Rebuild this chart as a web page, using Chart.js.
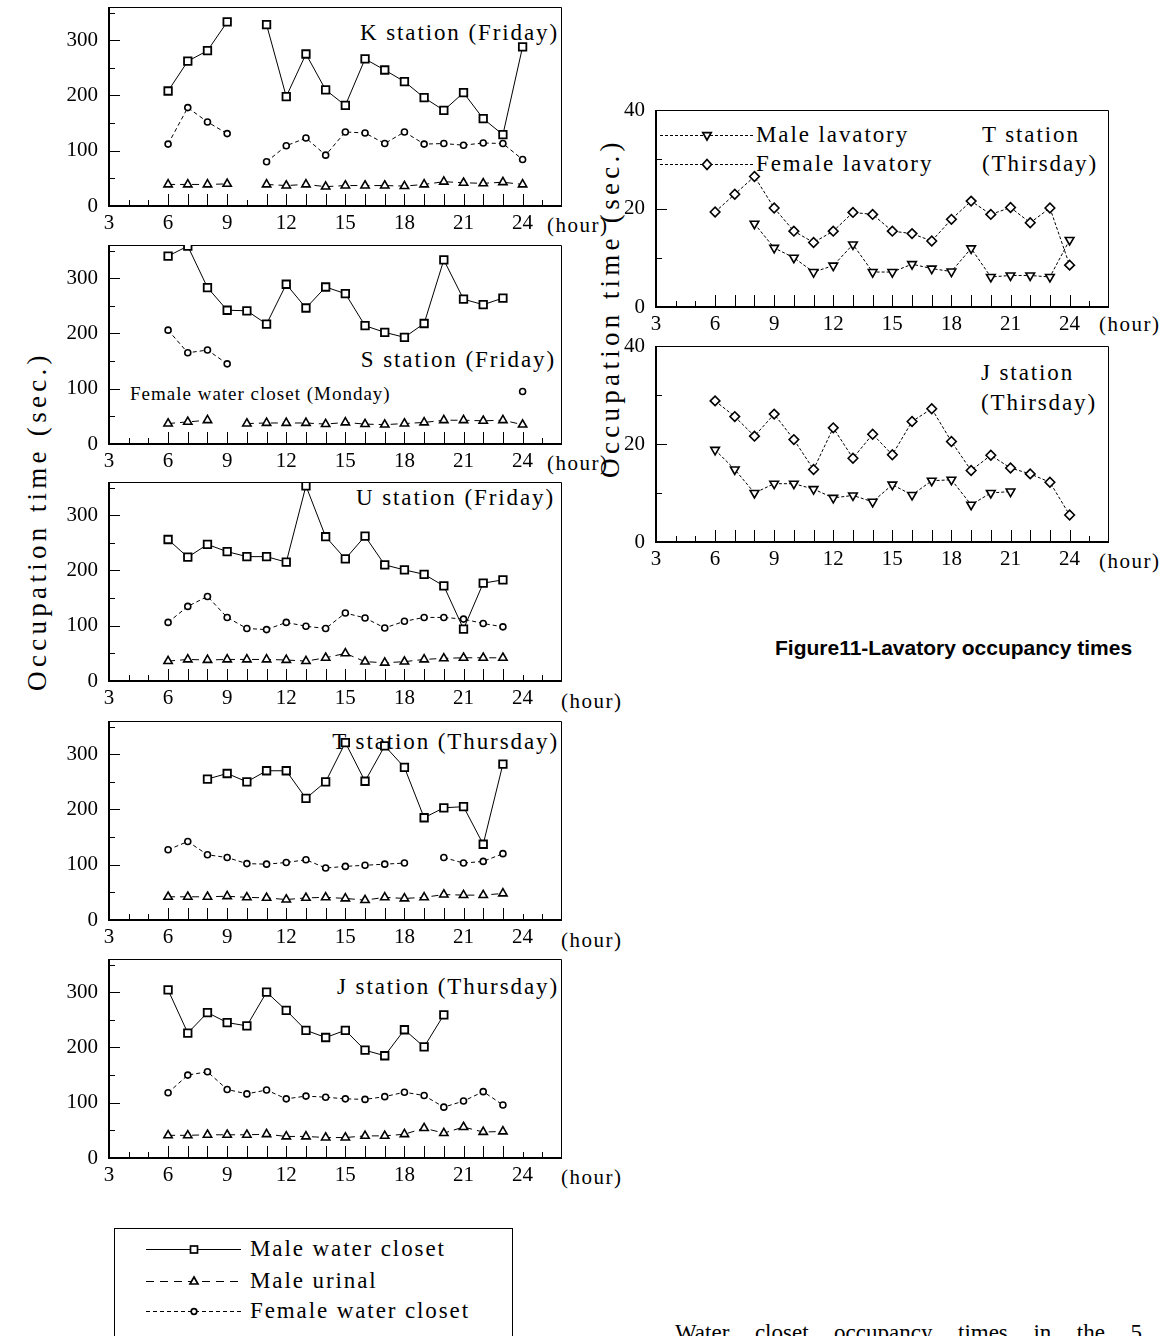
<!DOCTYPE html>
<html>
<head>
<meta charset="utf-8">
<script src="https://cdn.jsdelivr.net/npm/chart.js@4.4.0/dist/chart.umd.min.js"></script>
<style>
  body { margin: 0; background: #fff; }
  #page { position: relative; width: 1162px; height: 1336px; overflow: hidden; background: #fff;
          font-family: "Liberation Serif", "Times New Roman", serif; color: #000; }
  canvas { position: absolute; }
  .lab { position: absolute; white-space: nowrap; font-size: 23px; letter-spacing: 1.9px; line-height: 26px; }
  .hr { position: absolute; white-space: nowrap; font-size: 21px; letter-spacing: 1.5px; line-height: 24px; }
  .ytitle { position: absolute; white-space: nowrap; font-size: 27px; letter-spacing: 4.3px; line-height: 30px;
            transform: translate(-50%, -50%) rotate(-90deg); }
  .fig { position: absolute; white-space: nowrap; font-family: "Liberation Sans", Arial, sans-serif;
         font-weight: bold; font-size: 21px; line-height: 24px; }
  .para { position: absolute; font-size: 23px; line-height: 28px; text-align: justify; text-align-last: justify; }
  svg { position: absolute; left: 0; top: 0; }
</style>
</head>
<body>
<div id="page">
  <div class="ytitle" style="left:37px; top:521px;">Occupation time (sec.)</div>
  <div class="ytitle" style="left:610px; top:308px;">Occupation time (sec.)</div>

  <div class="lab" style="right:603px; top:20px;">K station (Friday)</div>
  <div class="lab" style="right:606px; top:347px;">S station (Friday)</div>
  <div class="lab" style="left:130px; top:383px; font-size:19px; letter-spacing:1px; line-height:22px;">Female water closet (Monday)</div>
  <div class="lab" style="right:607px; top:485px;">U station (Friday)</div>
  <div class="lab" style="right:603px; top:729px;">T station (Thursday)</div>
  <div class="lab" style="right:603px; top:974px;">J station (Thursday)</div>

  <div class="hr" style="left:547px; top:213px;">(hour)</div>
  <div class="hr" style="left:547px; top:451px;">(hour)</div>
  <div class="hr" style="left:561px; top:689px;">(hour)</div>
  <div class="hr" style="left:561px; top:928px;">(hour)</div>
  <div class="hr" style="left:561px; top:1165px;">(hour)</div>
  <div class="hr" style="left:1099px; top:312px;">(hour)</div>
  <div class="hr" style="left:1099px; top:549px;">(hour)</div>

  <div class="lab" style="left:756px; top:122px;">Male lavatory</div>
  <div class="lab" style="left:756px; top:151px;">Female lavatory</div>
  <div class="lab" style="left:982px; top:122px;">T station</div>
  <div class="lab" style="left:982px; top:151px;">(Thirsday)</div>
  <div class="lab" style="left:981px; top:360px;">J station</div>
  <div class="lab" style="left:981px; top:390px;">(Thirsday)</div>

  <div class="fig" style="left:775px; top:636px;">Figure11-Lavatory occupancy times</div>

  <div style="position:absolute; left:114px; top:1228px; width:397px; height:130px; border:1px solid #000; border-left-width:1.5px;"></div>
  <div class="lab" style="left:250px; top:1236px;">Male water closet</div>
  <div class="lab" style="left:250px; top:1268px;">Male urinal</div>
  <div class="lab" style="left:250px; top:1298px;">Female water closet</div>

  <div class="para" style="left:675px; top:1319px; width:467px;">Water closet occupancy times in the 5</div>

  <svg width="1162" height="1336">
    <g stroke="#000" fill="none" stroke-width="1">
      <line x1="146" y1="1249.5" x2="241" y2="1249.5"/>
      <line x1="146" y1="1281.5" x2="241" y2="1281.5" stroke-dasharray="8 6"/>
      <line x1="146" y1="1311.5" x2="241" y2="1311.5" stroke-dasharray="4 3"/>
      <line x1="660" y1="135.5" x2="754" y2="135.5" stroke-dasharray="3 2"/>
      <line x1="660" y1="164.5" x2="754" y2="164.5" stroke-dasharray="3 2"/>
    </g>
    <g stroke="#000" fill="#fff" stroke-width="1.7">
      <rect x="190.5" y="1246" width="7" height="7"/>
      <polygon points="194,1277 198,1284 190,1284"/>
      <circle cx="194" cy="1311.5" r="2.8"/>
      <polygon points="707,140 702.8,132.7 711.2,132.7"/>
      <polygon points="707,159.5 711.5,164.5 707,169.5 702.5,164.5"/>
    </g>
  </svg>
</div>

<script>
// hours of the day on every panel
const hours = [6, 7, 8, 9, 10, 11, 12, 13, 14, 15, 16, 17, 18, 19, 20, 21, 22, 23, 24];
const xTickVals = [3, 6, 9, 12, 15, 18, 21, 24];
const xMinorTicks = [4, 5, 6, 7, 8, 9, 10, 11, 12, 13, 14, 15, 16, 17, 18, 19, 20, 21, 22, 23, 24, 25];
const wcTicks = [0, 100, 200, 300];
const wcMinor = [50, 100, 150, 200, 250, 300, 350];
const lavTicks = [0, 20, 40];
const lavMinor = [10, 20, 30];

// K station (Friday)
const kMaleWC   = [208, 262, 281, 333, null, 328, 198, 275, 210, 182, 266, 246, 225, 196, 173, 205, 158, 129, 288];
const kUrinal   = [39, 39, 39, 40, null, 39, 37, 39, 35, 37, 37, 37, 36, 39, 44, 42, 41, 43, 39];
const kFemaleWC = [112, 178, 152, 131, null, 80, 109, 123, 92, 134, 132, 113, 134, 112, 113, 110, 114, 113, 84];
// S station (Friday), female on Monday
const sMaleWC   = [340, 358, 283, 242, 241, 217, 289, 246, 284, 272, 214, 202, 193, 218, 333, 262, 252, 264, null];
const sUrinal   = [37, 40, 43, null, 37, 38, 38, 38, 36, 39, 36, 35, 37, 39, 43, 43, 42, 43, 35];
const sFemaleWC = [206, 165, 170, 145, null, null, null, null, null, null, null, null, null, null, null, null, null, null, 95];
// U station (Friday)
const uMaleWC   = [256, 224, 247, 234, 225, 225, 215, 353, 261, 221, 262, 210, 201, 193, 172, 94, 177, 183, null];
const uUrinal   = [36, 39, 38, 39, 39, 39, 38, 36, 42, 50, 35, 33, 35, 39, 41, 42, 42, 42, null];
const uFemaleWC = [106, 135, 153, 115, 95, 93, 106, 99, 95, 123, 114, 96, 108, 115, 115, 112, 104, 98, null];
// T station (Thursday)
const tMaleWC   = [null, null, 255, 265, 250, 270, 270, 220, 250, 321, 251, 315, 276, 185, 203, 205, 137, 282, null];
const tUrinal   = [42, 42, 42, 43, 41, 40, 37, 40, 41, 39, 36, 41, 39, 41, 46, 45, 45, 48, null];
const tFemaleWC = [127, 142, 118, 113, 102, 101, 104, 109, 94, 97, 99, 101, 103, null, 113, 103, 106, 120, null];
// J station (Thursday)
const jMaleWC   = [304, 226, 263, 245, 239, 300, 267, 231, 218, 231, 195, 185, 232, 201, 259, null, null, null, null];
const jUrinal   = [41, 41, 42, 42, 42, 43, 39, 39, 37, 37, 40, 40, 43, 54, 45, 56, 47, 48, null];
const jFemaleWC = [118, 150, 156, 124, 116, 123, 107, 112, 110, 107, 106, 111, 119, 113, 92, 103, 120, 96, null];
// lavatories
const tMaleLav   = [null, null, 16.9, 12.0, 10.0, 7.1, 8.4, 12.7, 7.1, 7.1, 8.7, 7.8, 7.2, 11.9, 6.1, 6.4, 6.4, 6.1, 13.6];
const tFemaleLav = [19.3, 22.9, 26.5, 20.1, 15.4, 13.1, 15.4, 19.2, 18.8, 15.4, 14.9, 13.4, 17.8, 21.5, 18.8, 20.2, 17.1, 20.1, 8.5];
const jMaleLav   = [18.8, 14.8, 10.0, 11.9, 11.9, 10.8, 9.0, 9.5, 8.2, 11.7, 9.6, 12.5, 12.7, 7.6, 10.0, 10.3, null, null, null];
const jFemaleLav = [28.8, 25.6, 21.6, 26.1, 20.9, 14.8, 23.3, 17.1, 22.0, 17.8, 24.6, 27.2, 20.5, 14.6, 17.7, 15.1, 13.9, 12.2, 5.5];

Chart.defaults.font.family = "'Liberation Serif', 'Times New Roman', serif";
Chart.defaults.font.size = 21;
Chart.defaults.color = '#000';

const MWC  = { pointStyle: 'rect', pointRadius: 5.3, pointBorderWidth: 1.8 };
const MU   = { pointStyle: 'triangle', pointRadius: 4.8, borderDash: [7, 5] };
const FWC  = { pointStyle: 'circle', pointRadius: 3, borderDash: [4, 3] };
const MLAV = { pointStyle: 'triangle', pointRotation: 180, pointRadius: 5, borderDash: [3, 2] };
const FLAV = { pointStyle: 'rectRot', pointRadius: 4.8, borderDash: [3, 2] };

function series(vals, style) {
    return Object.assign({
        data: hours.map((h, i) => ({ x: h, y: vals[i] })),
        borderColor: '#000', borderWidth: 1, fill: false, tension: 0, spanGaps: false,
        pointBackgroundColor: '#fff', pointBorderColor: '#000', pointBorderWidth: 1.6, pointHoverRadius: 0
    }, style);
}

// box frame plus the little inward ticks
const frameTicks = {
    id: 'frameTicks',
    beforeDatasetsDraw(chart, args, o) {
        const { ctx, chartArea: a } = chart;
        const x = chart.scales.x, y = chart.scales.y;
        ctx.save();
        ctx.strokeStyle = '#000';
        ctx.lineWidth = 1;
        ctx.beginPath();
        ctx.moveTo(a.left, a.top + 0.5);
        ctx.lineTo(a.right - 0.5, a.top + 0.5);
        ctx.lineTo(a.right - 0.5, a.bottom);
        for (const h of xMinorTicks) {
            const px = Math.round(x.getPixelForValue(h)) + 0.5;
            const len = o.longHours.includes(h) ? 12 : 6;
            ctx.moveTo(px, a.bottom);
            ctx.lineTo(px, a.bottom - len);
        }
        for (const v of o.yMinor) {
            const py = Math.round(y.getPixelForValue(v)) + 0.5;
            const len = o.yLong.includes(v) ? 11 : 6;
            ctx.moveTo(a.left, py);
            ctx.lineTo(a.left + len, py);
        }
        ctx.stroke();
        ctx.lineWidth = 2;
        ctx.beginPath();
        ctx.moveTo(a.left, a.top);
        ctx.lineTo(a.left, a.bottom);
        ctx.lineTo(a.right, a.bottom);
        ctx.stroke();
        ctx.restore();
    }
};

const page = document.getElementById('page');

function makePanel(area, yMax, yTickVals, yMinor, yLong, sets) {
    const padTop = 28, padRight = 8, yw = 49, xh = 34;
    const w = area.right - area.left + yw + padRight;
    const h = area.bottom - area.top + padTop + xh;
    const cv = document.createElement('canvas');
    cv.width = w; cv.height = h;
    cv.style.left = (area.left - yw) + 'px';
    cv.style.top = (area.top - padTop) + 'px';
    cv.style.width = w + 'px';
    cv.style.height = h + 'px';
    page.appendChild(cv);

    const longHours = hours.filter((hr, i) => sets.some(s => s[0][i] != null));

    new Chart(cv, {
        type: 'line',
        data: { datasets: sets.map(s => series(s[0], s[1])) },
        options: {
            responsive: false,
            animation: false,
            events: [],
            layout: { padding: { top: padTop, right: padRight, left: 0, bottom: 0 } },
            plugins: { legend: { display: false }, tooltip: { enabled: false },
                       frameTicks: { longHours, yMinor, yLong } },
            scales: {
                x: {
                    type: 'linear', min: 3, max: 26,
                    afterBuildTicks: s => { s.ticks = xTickVals.map(v => ({ value: v })); },
                    afterFit: s => { s.height = xh; },
                    grid: { display: false, drawTicks: false },
                    border: { display: false },
                    ticks: { autoSkip: false, maxRotation: 0, minRotation: 0, padding: 5, color: '#000', font: { size: 21 } }
                },
                y: {
                    type: 'linear', min: 0, max: yMax,
                    afterBuildTicks: s => { s.ticks = yTickVals.map(v => ({ value: v })); },
                    afterFit: s => { s.width = yw; },
                    grid: { display: false, drawTicks: false },
                    border: { display: false },
                    ticks: { autoSkip: false, padding: 11, color: '#000', font: { size: 21 } }
                }
            }
        },
        plugins: [frameTicks]
    });
}

const leftTops = [7, 245, 482, 721, 959];
const leftSets = [
    [[kMaleWC, MWC], [kUrinal, MU], [kFemaleWC, FWC]],
    [[sMaleWC, MWC], [sUrinal, MU], [sFemaleWC, FWC]],
    [[uMaleWC, MWC], [uUrinal, MU], [uFemaleWC, FWC]],
    [[tMaleWC, MWC], [tUrinal, MU], [tFemaleWC, FWC]],
    [[jMaleWC, MWC], [jUrinal, MU], [jFemaleWC, FWC]]
];
leftTops.forEach((top, i) => {
    makePanel({ left: 109, right: 562, top: top, bottom: top + 199 }, 360, wcTicks, wcMinor, [100, 200, 300], leftSets[i]);
});

makePanel({ left: 656, right: 1109, top: 110, bottom: 307 }, 40, lavTicks, lavMinor, [20],
    [[tMaleLav, MLAV], [tFemaleLav, FLAV]]);
makePanel({ left: 656, right: 1109, top: 346, bottom: 542 }, 40, lavTicks, lavMinor, [20],
    [[jMaleLav, MLAV], [jFemaleLav, FLAV]]);
</script>
</body>
</html>
